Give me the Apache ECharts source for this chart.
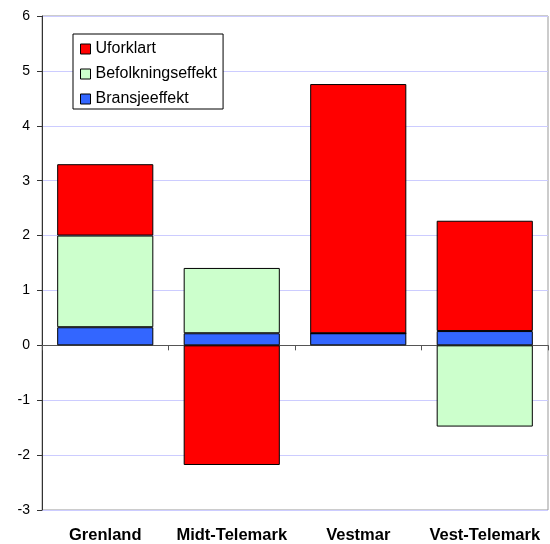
<!DOCTYPE html>
<html>
<head>
<meta charset="utf-8">
<script src="https://cdn.jsdelivr.net/npm/echarts@6/dist/echarts.min.js"></script>
<style>
  html, body { margin: 0; padding: 0; background: #fff; }
  #chart { width: 550px; height: 544px; }
</style>
</head>
<body>
<div id="chart"></div>
<script>
// regions on the x axis
var regions = ['Grenland', 'Midt-Telemark', 'Vestmar', 'Vest-Telemark']

// stacked components (bottom -> top)
var bransjeeffekt = [0.33, 0.22, 0.22, 0.26]
var befolkningseffekt = [1.67, 1.19, 0, -1.48]
var uforklart = [1.30, -2.18, 4.54, 2.01]

var fontFamily = '"Liberation Sans", Arial, sans-serif'

var chart = echarts.init(document.getElementById('chart'))

chart.setOption({
  animation: false,
  textStyle: { fontFamily: fontFamily },
  grid: {
    left: 42,
    right: 2,
    top: 16,
    bottom: 34,
    show: true,
    borderColor: '#999',
    borderWidth: 1
  },
  legend: {
    orient: 'vertical',
    left: 73,
    top: 34,
    padding: [6, 6, 1, 7],
    borderColor: '#000',
    borderWidth: 1,
    backgroundColor: '#fff',
    itemWidth: 10,
    itemHeight: 10,
    itemGap: 7,
    icon: 'rect',
    data: ['Uforklart', 'Befolkningseffekt', 'Bransjeeffekt'],
    textStyle: { fontSize: 16, color: '#000', lineHeight: 18 },
    itemStyle: { borderColor: '#000', borderWidth: 1 }
  },
  xAxis: [
    {
      type: 'category',
      data: regions,
      axisLine: { onZero: true, lineStyle: { color: '#555', width: 1 } },
      axisTick: { show: true, length: 5, lineStyle: { color: '#555' } },
      axisLabel: { show: false }
    },
    {
      type: 'category',
      data: regions,
      position: 'bottom',
      axisLine: { show: false },
      axisTick: { show: false },
      axisLabel: {
        interval: 0,
        color: '#000',
        fontSize: 16.5,
        fontWeight: 'bold',
        margin: 17
      }
    }
  ],
  yAxis: {
    type: 'value',
    min: -3,
    max: 6,
    interval: 1,
    axisLine: { show: true, onZero: false, lineStyle: { color: '#333' } },
    axisTick: { show: true, length: 5, lineStyle: { color: '#333' } },
    axisLabel: { color: '#000', fontSize: 14, margin: 12 },
    splitLine: { lineStyle: { color: '#ccccff', width: 1 } }
  },
  series: [
    {
      name: 'Bransjeeffekt',
      type: 'bar',
      stack: 'total',
      barWidth: '76%',
      data: bransjeeffekt,
      itemStyle: { color: '#3366ff', borderColor: '#000', borderWidth: 1 }
    },
    {
      name: 'Befolkningseffekt',
      type: 'bar',
      stack: 'total',
      data: befolkningseffekt,
      itemStyle: { color: '#ccffcc', borderColor: '#000', borderWidth: 1 }
    },
    {
      name: 'Uforklart',
      type: 'bar',
      stack: 'total',
      data: uforklart,
      itemStyle: { color: '#ff0000', borderColor: '#000', borderWidth: 1 }
    }
  ]
})
</script>
</body>
</html>
